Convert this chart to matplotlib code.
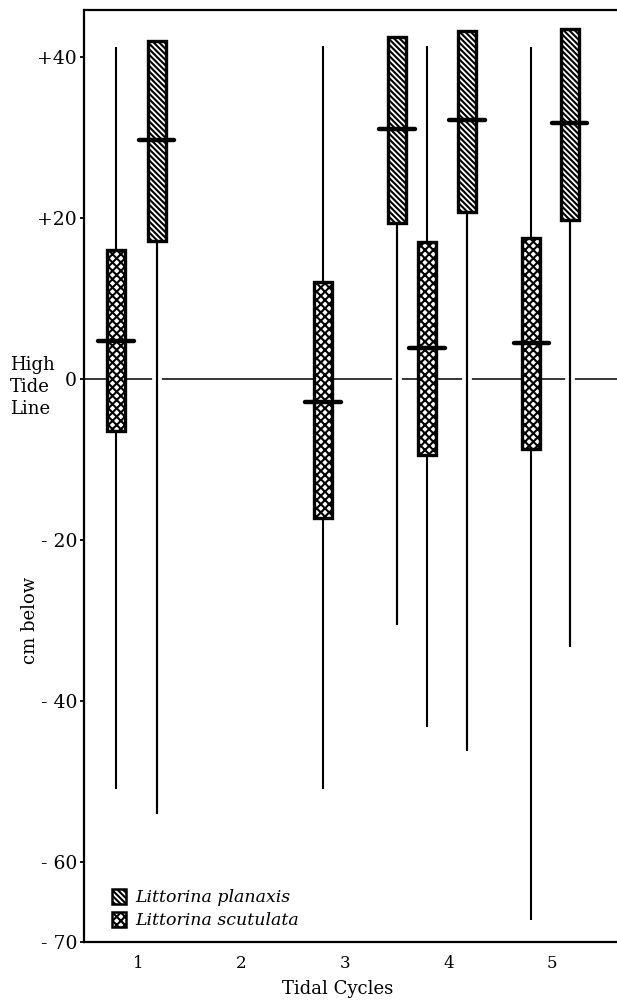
import matplotlib
matplotlib.use("Agg")
import matplotlib.pyplot as plt
from matplotlib.patches import Patch
import matplotlib.patheffects as pe

# ---------------- data ----------------
cycle_ticks = [1, 2, 3, 4, 5]
cycle_labels = ["1", "2", "3", "4", "5"]

# Littorina scutulata (dotted boxes)
scut_x = [0.79, 2.79, 3.79, 4.80]
scut_lo = [-51.0, -51.0, -43.3, -67.3]
scut_q1 = [-6.5, -17.3, -9.4, -8.7]
scut_med = [4.8, -2.9, 3.9, 4.5]
scut_q3 = [16.0, 12.1, 17.0, 17.5]
scut_hi = [41.3, 41.4, 41.4, 41.3]

# Littorina planaxis (hatched boxes)
plan_x = [1.18, 3.50, 4.18, 5.17]
plan_lo = [-54.1, -30.6, -46.2, -33.3]
plan_q1 = [17.2, 19.4, 20.8, 19.8]
plan_med = [29.7, 31.1, 32.2, 31.9]
plan_q3 = [42.1, 42.6, 43.3, 43.5]

y_ticks = [40, 20, 0, -20, -40, -60, -70]
y_labels = ["+40", "+20", "0", "- 20", "- 40", "- 60", "- 70"]

legend_labels = ["Littorina planaxis", "Littorina scutulata"]

# ---------------- style ----------------
plt.rcParams["font.family"] = ["DejaVu Serif"]
plt.rcParams["hatch.linewidth"] = 1.5

W, H = 617, 1000
fig = plt.figure(figsize=(W / 100, H / 100), dpi=100)
left, right, bottom, top = 84, 617, 942, 10
ax = fig.add_axes([left / W, 1 - bottom / H, (right - left) / W, (bottom - top) / H])

ax.set_xlim(0.478, 5.628)
ax.set_ylim(-70, 45.9)

box_w = 0.175
med_half = 0.172

# zero (high tide) line
ax.axhline(0, color="black", lw=1.1, zorder=1)

# scutulata whiskers
ax.vlines(scut_x, scut_lo, scut_hi, color="black", lw=1.5, zorder=2)
# planaxis whiskers (from box bottom downwards), breaking the tide line
ax.vlines(plan_x, plan_lo, plan_q1, color="black", lw=1.5, zorder=2,
          path_effects=[pe.withStroke(linewidth=7, foreground="white"), pe.Normal()])

# boxes
scut_h = [q3 - q1 for q1, q3 in zip(scut_q1, scut_q3)]
plan_h = [q3 - q1 for q1, q3 in zip(plan_q1, plan_q3)]
ax.bar(scut_x, scut_h, bottom=scut_q1, width=box_w, facecolor="white",
       edgecolor="black", linewidth=2.4, hatch="xxxx", zorder=3)
ax.bar(plan_x, plan_h, bottom=plan_q1, width=box_w, facecolor="white",
       edgecolor="black", linewidth=2.4, hatch="\\\\\\\\\\\\", zorder=3)

# medians
ax.hlines(scut_med, [x - med_half for x in scut_x], [x + med_half for x in scut_x],
          color="black", lw=3.2, zorder=4, capstyle="round")
ax.hlines(plan_med, [x - med_half for x in plan_x], [x + med_half for x in plan_x],
          color="black", lw=3.2, zorder=4, capstyle="round")

# axes styling
for s in ["left", "bottom", "top"]:
    ax.spines[s].set_linewidth(1.6)
ax.spines["right"].set_visible(False)

ax.set_yticks(y_ticks)
ax.set_yticklabels(y_labels, fontsize=13.5)
ax.tick_params(axis="y", direction="out", length=3, width=1.3, pad=2)
ax.set_xticks(cycle_ticks)
ax.set_xticklabels(cycle_labels, fontsize=12)
ax.tick_params(axis="x", length=0, pad=9)

# side texts
fig.text(10 / W, 1 - 387 / H, "High\nTide\nLine", fontsize=13, ha="left", va="center",
         linespacing=1.25)
fig.text(30 / W, 1 - 620 / H, "cm below", fontsize=13, rotation=90, ha="center", va="center")
fig.text(338 / W, 1 - 989 / H, "Tidal Cycles", fontsize=13, ha="center", va="center")

# legend
handles = [Patch(facecolor="white", edgecolor="black", hatch="\\\\\\\\\\\\", linewidth=1.8),
           Patch(facecolor="white", edgecolor="black", hatch="xxxx", linewidth=1.8)]
leg = ax.legend(handles, legend_labels, loc="upper left",
                bbox_to_anchor=(103 / W, 1 - 880 / H), bbox_transform=fig.transFigure,
                frameon=False, borderpad=0, handlelength=0.85, handleheight=1.0,
                handletextpad=0.5, labelspacing=0.3,
                prop={"style": "italic", "size": 12.5})

fig.savefig("out.png", dpi=100)
